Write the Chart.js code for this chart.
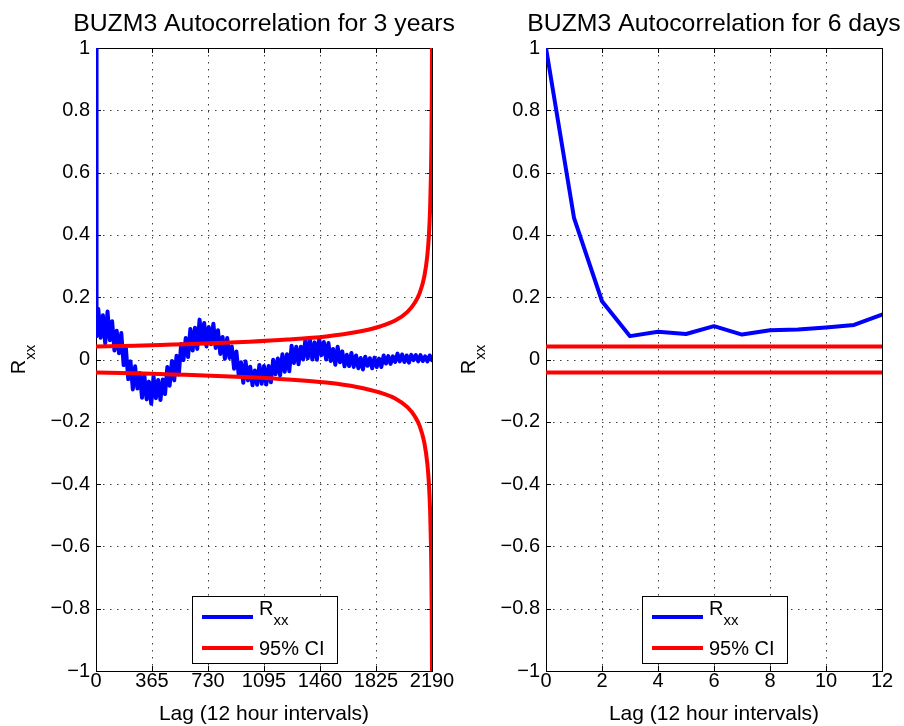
<!DOCTYPE html>
<html lang="en">
<head>
<meta charset="UTF-8">
<title>BUZM3 Autocorrelation</title>
<script src="https://cdn.jsdelivr.net/npm/chart.js"></script>
<style>
  body { margin: 0; background: #fff; }
  #wrap { position: relative; width: 904px; height: 726px; }
  canvas { position: absolute; top: 0; }
  #left { left: 0; }
  #right { left: 452px; }
</style>
</head>
<body>
<div id="wrap">
  <canvas id="left" width="480" height="726"></canvas>
  <canvas id="right" width="452" height="726"></canvas>
</div>
<script>
// first 12 lags (6 days)
const shortLags = [0, 1, 2, 3, 4, 5, 6, 7, 8, 9, 10, 11, 12];
const shortRxx = [1.0, 0.455, 0.187, 0.075, 0.089, 0.082, 0.107, 0.080, 0.094, 0.096, 0.103, 0.111, 0.144];
const shortCi = [0.042, 0.042, 0.042, 0.042, 0.042, 0.042, 0.042, 0.042, 0.042, 0.042, 0.042, 0.042, 0.042];

// full 3 year record, one value every 15 lags from lag 15 to 2190
const longStep = 15;
const longRxx = [
  0.162, 0.070, 0.142, 0.052, 0.154, 0.062, 0.123, 0.029, 0.092, 0.020,
  0.085, -0.018, 0.036, -0.063, -0.006, -0.096, -0.022, -0.093, -0.043, -0.123,
  -0.049, -0.128, -0.071, -0.142, -0.054, -0.124, -0.066, -0.130, -0.064, -0.111,
  -0.024, -0.084, -0.005, -0.067, 0.012, -0.048, 0.050, -0.002, 0.069, 0.008,
  0.098, 0.029, 0.102, 0.034, 0.128, 0.056, 0.117, 0.042, 0.104, 0.049,
  0.115, 0.037, 0.094, 0.018, 0.072, 0.002, 0.069, 0.005, 0.042, -0.030,
  0.026, -0.050, -0.009, -0.075, -0.006, -0.067, -0.023, -0.083, -0.035, -0.081,
  -0.018, -0.078, -0.021, -0.080, -0.021, -0.073, -0.001, -0.047, 0.003, -0.051,
  0.017, -0.039, 0.017, -0.038, 0.044, -0.011, 0.041, -0.015, 0.041, 0.000,
  0.065, 0.004, 0.062, 0.000, 0.055, -0.001, 0.066, 0.014, 0.056, 0.000,
  0.053, -0.005, 0.034, -0.017, 0.041, -0.009, 0.026, -0.022, 0.015, -0.021,
  0.021, -0.024, 0.013, -0.028, 0.005, -0.032, 0.009, -0.020, 0.004, -0.028,
  0.006, -0.024, 0.003, -0.024, 0.013, -0.013, 0.011, -0.014, 0.010, -0.008,
  0.019, -0.006, 0.016, -0.008, 0.013, -0.010, 0.015, -0.002, 0.014, -0.006,
  0.014, -0.005, 0.010, -0.006, 0.013, -0.002
];

// 95% confidence bound (upper side, the lower side mirrors it)
const ciLags = [0, 250, 500, 750, 1000, 1250, 1500, 1700, 1850, 1950, 2030, 2080, 2110, 2140, 2160, 2170, 2178, 2183, 2186, 2188, 2189, 2190];
const ciUpper = [0.042, 0.044, 0.048, 0.052, 0.057, 0.064, 0.074, 0.088, 0.106, 0.125, 0.153, 0.184, 0.214, 0.267, 0.336, 0.400, 0.490, 0.590, 0.690, 0.800, 0.880, 1.000];

const leftLagTicks = [0, 365, 730, 1095, 1460, 1825, 2190];
const rightLagTicks = [0, 2, 4, 6, 8, 10, 12];
const rxxTicks = [-1, -0.8, -0.6, -0.4, -0.2, 0, 0.2, 0.4, 0.6, 0.8, 1];

const FONT = '"Liberation Sans", Arial, Helvetica, sans-serif';
const BLUE = '#0000ff';
const RED = '#ff0000';

function rxxLabel(v) {
  const r = Math.round(v * 10) / 10;
  if (r === 0) return '0';
  return (r < 0 ? '\u2212' : '') + Math.abs(r).toString();
}

// dotted grid, box and inward tick marks, under the data
const framePlugin = {
  id: 'frame',
  beforeDatasetsDraw(chart) {
    const { ctx, chartArea: a, scales: { x, y } } = chart;
    ctx.save();
    ctx.lineWidth = 1;
    ctx.strokeStyle = '#404040';
    ctx.setLineDash([1.5, 5.5]);
    ctx.beginPath();
    x.ticks.forEach(t => {
      const px = Math.round(x.getPixelForValue(t.value)) + 0.5;
      if (px > a.left + 2 && px < a.right - 2) { ctx.moveTo(px, a.top); ctx.lineTo(px, a.bottom); }
    });
    y.ticks.forEach(t => {
      const py = Math.round(y.getPixelForValue(t.value)) + 0.5;
      if (py > a.top + 2 && py < a.bottom - 2) { ctx.moveTo(a.left, py); ctx.lineTo(a.right, py); }
    });
    ctx.stroke();
    ctx.setLineDash([]);
    ctx.strokeStyle = '#000';
    ctx.strokeRect(Math.round(a.left) + 0.5, Math.round(a.top) + 0.5, Math.round(a.right - a.left), Math.round(a.bottom - a.top));
    ctx.beginPath();
    x.ticks.forEach(t => {
      const px = Math.round(x.getPixelForValue(t.value)) + 0.5;
      ctx.moveTo(px, a.bottom); ctx.lineTo(px, a.bottom - 5);
      ctx.moveTo(px, a.top); ctx.lineTo(px, a.top + 5);
    });
    y.ticks.forEach(t => {
      const py = Math.round(y.getPixelForValue(t.value)) + 0.5;
      ctx.moveTo(a.left, py); ctx.lineTo(a.left + 5, py);
      ctx.moveTo(a.right, py); ctx.lineTo(a.right - 5, py);
    });
    ctx.stroke();
    ctx.restore();
  }
};

// title, axis titles and the boxed legend
const decorPlugin = {
  id: 'decor',
  afterDraw(chart, args, opts) {
    const { ctx, chartArea: a } = chart;
    const cx = (a.left + a.right) / 2;
    const cy = (a.top + a.bottom) / 2;
    ctx.save();
    ctx.fillStyle = '#000';
    ctx.textBaseline = 'alphabetic';
    ctx.textAlign = 'center';
    ctx.font = '24.8px ' + FONT;
    ctx.fillText(opts.title, cx, 31);
    ctx.font = '21px ' + FONT;
    ctx.fillText('Lag (12 hour intervals)', cx, 720);

    // R with subscript xx, read bottom to top
    ctx.font = '20px ' + FONT;
    const wR = ctx.measureText('R').width;
    ctx.font = '15px ' + FONT;
    const wSub = ctx.measureText('xx').width;
    ctx.save();
    ctx.translate(a.left - 71, cy + (wR + wSub) / 2);
    ctx.rotate(-Math.PI / 2);
    ctx.textAlign = 'left';
    ctx.font = '20px ' + FONT;
    ctx.fillText('R', 0, 0);
    ctx.font = '15px ' + FONT;
    ctx.fillText('xx', wR, 10);
    ctx.restore();

    // legend box
    const bx = Math.round(cx - 72.5);
    ctx.fillStyle = '#fff';
    ctx.fillRect(bx, 596, 145, 67);
    ctx.strokeStyle = '#000';
    ctx.lineWidth = 1;
    ctx.strokeRect(bx + 0.5, 596.5, 145, 67);
    ctx.lineWidth = 4;
    ctx.strokeStyle = BLUE;
    ctx.beginPath(); ctx.moveTo(bx + 10, 617); ctx.lineTo(bx + 61, 617); ctx.stroke();
    ctx.strokeStyle = RED;
    ctx.beginPath(); ctx.moveTo(bx + 10, 648); ctx.lineTo(bx + 61, 648); ctx.stroke();
    ctx.fillStyle = '#000';
    ctx.textAlign = 'left';
    ctx.font = '20px ' + FONT;
    ctx.fillText('R', bx + 67, 615);
    ctx.font = '15px ' + FONT;
    ctx.fillText('xx', bx + 67 + wR, 625);
    ctx.font = '20px ' + FONT;
    ctx.fillText('95% CI', bx + 67, 655);
    ctx.restore();
  }
};

function points(xs, ys, sign) {
  return xs.map((x, i) => ({ x: x, y: (sign || 1) * ys[i] }));
}

function makeChart(id, cfg) {
  const tickFont = { family: FONT, size: 20, lineHeight: 1 };
  return new Chart(document.getElementById(id), {
    type: 'line',
    data: { datasets: cfg.datasets },
    options: {
      responsive: false,
      animation: false,
      events: [],
      layout: { padding: { top: 48, right: cfg.padRight, bottom: 0, left: 0 } },
      plugins: {
        legend: { display: false },
        tooltip: { enabled: false },
        decor: { title: cfg.title }
      },
      scales: {
        x: {
          type: 'linear',
          min: 0,
          max: cfg.xMax,
          afterBuildTicks: s => { s.ticks = cfg.xTicks.map(v => ({ value: v })); },
          afterFit: s => { s.height = 55; },
          grid: { display: false, drawTicks: false },
          border: { display: false },
          ticks: { color: '#000', font: tickFont, padding: 0, maxRotation: 0, autoSkip: false, callback: v => String(v) }
        },
        y: {
          type: 'linear',
          min: -1,
          max: 1,
          afterBuildTicks: s => { s.ticks = rxxTicks.map(v => ({ value: v })); },
          afterFit: s => { s.width = cfg.yWidth; },
          grid: { display: false, drawTicks: false },
          border: { display: false },
          ticks: { color: '#000', font: tickFont, padding: 6, callback: v => rxxLabel(v) }
        }
      }
    },
    plugins: [framePlugin, decorPlugin]
  });
}

const longPoints = points(shortLags, shortRxx).concat(
  longRxx.map((v, i) => ({ x: (i + 1) * longStep, y: v }))
);

const lineStyle = { borderWidth: 4, pointRadius: 0, fill: false, tension: 0, borderJoinStyle: 'round', borderCapStyle: 'round' };

makeChart('left', {
  title: 'BUZM3 Autocorrelation for 3 years',
  xMax: 2190,
  xTicks: leftLagTicks,
  padRight: 48,
  yWidth: 96,
  datasets: [
    Object.assign({ label: 'Rxx', data: longPoints, borderColor: BLUE, order: 2 }, lineStyle),
    Object.assign({ label: '95% CI', data: points(ciLags, ciUpper), borderColor: RED, order: 1, cubicInterpolationMode: 'monotone' }, lineStyle),
    Object.assign({ label: '95% CI low', data: points(ciLags, ciUpper, -1), borderColor: RED, order: 1, cubicInterpolationMode: 'monotone' }, lineStyle)
  ]
});

makeChart('right', {
  title: 'BUZM3 Autocorrelation for 6 days',
  xMax: 12,
  xTicks: rightLagTicks,
  padRight: 22,
  yWidth: 94,
  datasets: [
    Object.assign({ label: 'Rxx', data: points(shortLags, shortRxx), borderColor: BLUE, order: 2 }, lineStyle),
    Object.assign({ label: '95% CI', data: points(shortLags, shortCi), borderColor: RED, order: 1 }, lineStyle),
    Object.assign({ label: '95% CI low', data: points(shortLags, shortCi, -1), borderColor: RED, order: 1 }, lineStyle)
  ]
});
</script>
</body>
</html>
